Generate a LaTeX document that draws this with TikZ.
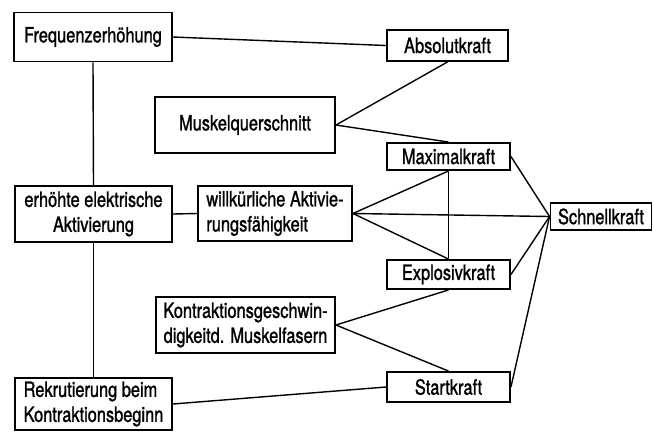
\documentclass[tikz,border=0pt]{standalone}
\usepackage{fontspec}
\setmainfont[FakeStretch=0.78,FakeBold=1.2]{TeX Gyre Heros}
\begin{document}
\begin{tikzpicture}[x=1pt,y=-1pt,
  box/.style={draw,line width=1.9pt,inner sep=1pt,font=\fontsize{21}{25}\selectfont,minimum width=#1},
  box/.default=120pt,
  con/.style={line width=1.4pt}]
\useasboundingbox (0,0) rectangle (654,432);
\node[box=158pt,minimum height=49pt] (F) at (93,37) {Frequenzerhöhung};
\node[box=180pt,minimum height=56pt] (M) at (245,125) {Muskelquerschnitt};
\node[box=157pt,minimum height=56pt,align=center] (E) at (93.5,214) {erhöhte elektrische\\Aktivierung};
\node[box=154pt,minimum height=55pt,align=left] (W) at (275,213.5) {willkürliche Aktivie-\\rungsfähigkeit};
\node[box=179pt,minimum height=56pt,align=center] (K) at (245.5,325) {Kontraktionsgeschwin-\\digkeitd. Muskelfasern};
\node[box=157pt,minimum height=52pt,align=left] (R) at (93.5,404) {Rekrutierung beim\\Kontraktionsbeginn};
\node[box=121pt,minimum height=31pt] (Ab) at (447.5,45.5) {Absolutkraft};
\node[box=123pt,minimum height=27pt] (Ma) at (448.5,156.5) {Maximalkraft};
\node[box=101pt,minimum height=27pt] (Sc) at (601,216.5) {Schnellkraft};
\node[box=123pt,minimum height=29pt] (Ex) at (448.5,274.5) {Explosivkraft};
\node[box=123pt,minimum height=30pt] (St) at (448.5,387) {Startkraft};
\draw[con] (F.east) -- (Ab.west);
\draw[con] (F.south) -- (E.north);
\draw[con] (E.south) -- (R.north);
\draw[con] (E.east) -- (W.west);
\draw[con] (M.east) -- (Ab.south);
\draw[con] (M.east) -- (Ma.north);
\draw[con] (W.east) -- (Ma.south);
\draw[con] (W.east) -- (Sc.west);
\draw[con] (W.east) -- (Ex.north);
\draw[con] (Ma.south) -- (Ex.north);
\draw[con] (Ma.east) -- (Sc.west);
\draw[con] (Ex.east) -- (Sc.west);
\draw[con] (St.east) -- (Sc.west);
\draw[con] (K.east) -- (Ex.south);
\draw[con] (K.east) -- (St.north);
\draw[con] (R.east) -- (St.west);
\end{tikzpicture}
\end{document}
